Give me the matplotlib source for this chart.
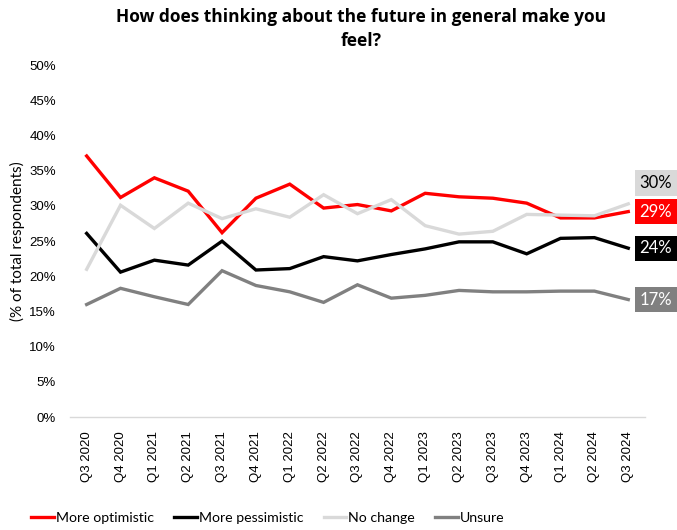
import matplotlib
matplotlib.use("Agg")
import matplotlib.pyplot as plt
from matplotlib.ticker import FuncFormatter, MultipleLocator

quarters = ["Q3 2020", "Q4 2020", "Q1 2021", "Q2 2021", "Q3 2021", "Q4 2021",
            "Q1 2022", "Q2 2022", "Q3 2022", "Q4 2022", "Q1 2023", "Q2 2023",
            "Q3 2023", "Q4 2023", "Q1 2024", "Q2 2024", "Q3 2024"]

more_optimistic = [37.1, 31.2, 34.0, 32.1, 26.2, 31.1, 33.1, 29.7, 30.2, 29.3,
                   31.8, 31.3, 31.1, 30.4, 28.3, 28.3, 29.2]
more_pessimistic = [26.1, 20.6, 22.3, 21.6, 25.0, 20.9, 21.1, 22.8, 22.2, 23.1,
                    23.9, 24.9, 24.9, 23.2, 25.4, 25.5, 24.0]
no_change = [21.0, 30.1, 26.8, 30.4, 28.2, 29.6, 28.4, 31.6, 28.9, 30.9,
             27.2, 26.0, 26.4, 28.8, 28.7, 28.6, 30.3]
unsure = [16.0, 18.3, 17.1, 16.0, 20.8, 18.7, 17.8, 16.3, 18.8, 16.9,
          17.3, 18.0, 17.8, 17.8, 17.9, 17.9, 16.7]

series_names = ["More optimistic", "More pessimistic", "No change", "Unsure"]
series_values = [more_optimistic, more_pessimistic, no_change, unsure]
colors = ["#FF0000", "#000000", "#D9D9D9", "#808080"]
label_text_colors = ["white", "white", "black", "white"]
label_offsets = [0, 0, 15, 0]  # points, vertical shift of end labels

fig = plt.figure(figsize=(6.77, 5.30), dpi=100)
ax = fig.add_axes([0.103, 0.213, 0.850, 0.664])

x = list(range(len(quarters)))
for name, vals, c in zip(series_names, series_values, colors):
    ax.plot(x, [v / 100 for v in vals], color=c, lw=2.4, label=name,
            solid_joinstyle="miter")

ax.set_xlim(-0.5, len(quarters) - 0.5)
ax.set_ylim(0, 0.5)
ax.yaxis.set_major_locator(MultipleLocator(0.05))
ax.yaxis.set_major_formatter(FuncFormatter(lambda v, p: f"{v*100:.0f}%"))
ax.set_xticks(x)
ax.set_xticklabels(quarters, rotation=90, fontsize=9.5, family="Liberation Sans")
for lab in ax.get_yticklabels():
    lab.set_fontsize(9.5)
    lab.set_family("Liberation Sans")
ax.tick_params(axis="y", length=0, pad=10)
ax.tick_params(axis="x", length=0, pad=10)
for s in ["top", "right", "left"]:
    ax.spines[s].set_visible(False)
ax.spines["bottom"].set_color("#D9D9D9")
ax.spines["bottom"].set_linewidth(1)

ax.set_ylabel("(% of total respondents)", fontsize=11, family="Lato", labelpad=3)

fig.text(0.533, 0.985, "How does thinking about the future in general make you\nfeel?",
         fontsize=12.5, fontweight="bold", family="Open Sans", ha="center", va="top",
         linespacing=1.45)

for vals, c, tc, off in zip(series_values, colors, label_text_colors, label_offsets):
    ax.annotate(f"{round(vals[-1]):.0f}%", xy=(len(quarters) - 1, vals[-1] / 100),
                xytext=(8, off), textcoords="offset points",
                ha="left", va="center", fontsize=12, color=tc,
                family="Lato",
                bbox=dict(boxstyle="square,pad=0.28", fc=c, ec="none"),
                annotation_clip=False)

leg = fig.legend(loc="lower left", ncol=4, frameon=False,
                 bbox_to_anchor=(0.027, -0.012),
                 handlelength=1.6, handletextpad=0.13, columnspacing=1.45,
                 prop={"family": "Lato", "size": 10.2})

fig.savefig("out.png", dpi=100)
